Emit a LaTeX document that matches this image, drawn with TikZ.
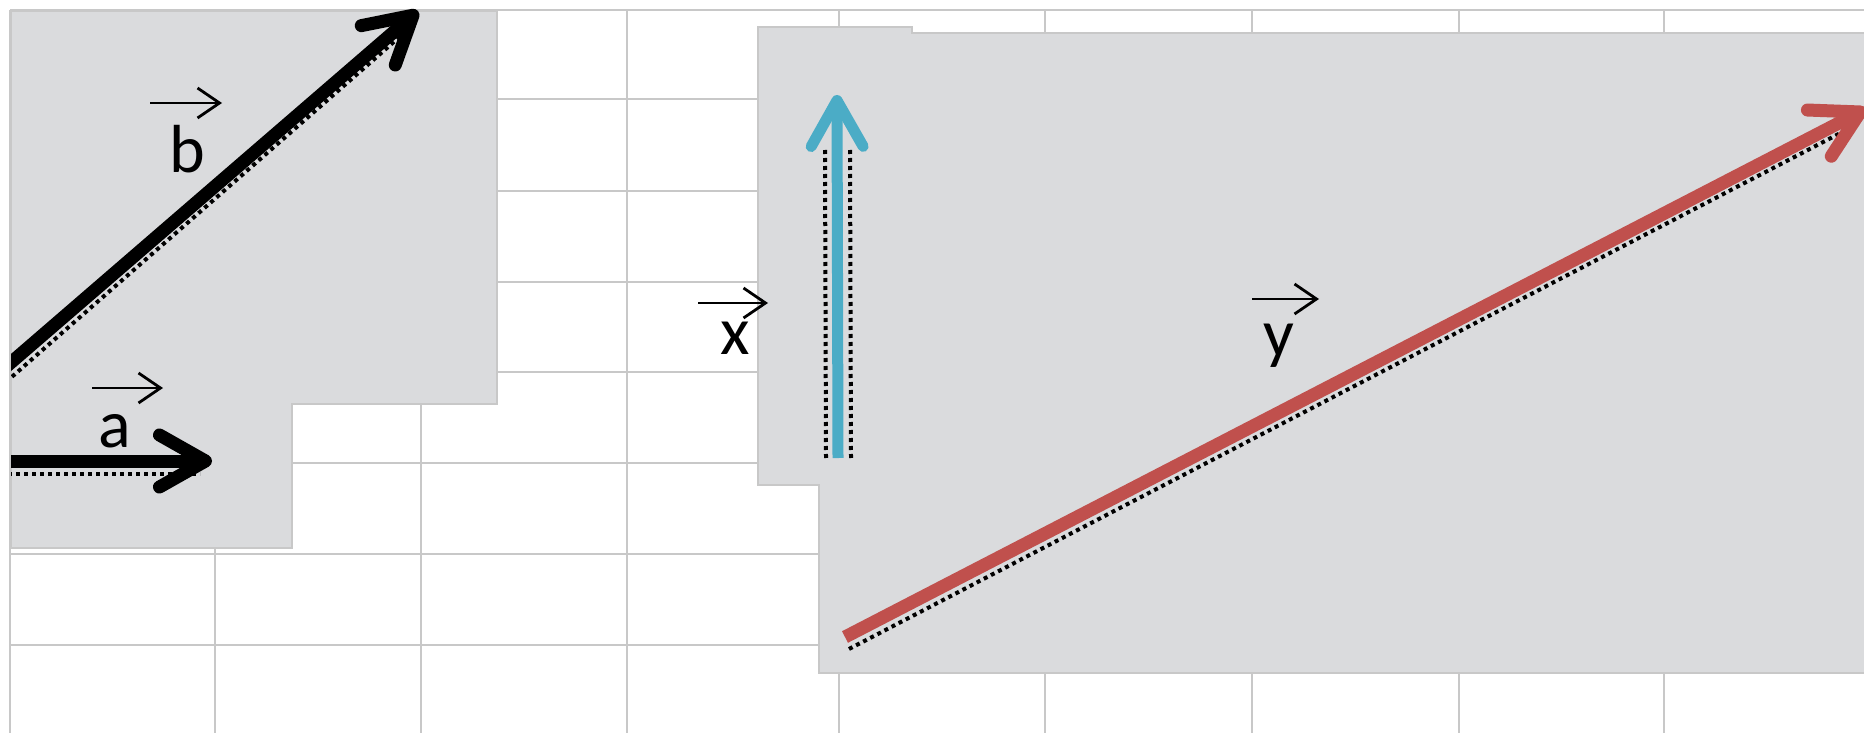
\documentclass[tikz,border=0pt]{standalone}
\usepackage{fontspec}
\setmainfont{Carlito}
\usepackage{xcolor}
\usepackage{tikz}
\usetikzlibrary{positioning, arrows.meta, calc}
\definecolor{gridgray}{HTML}{C8C8C8}
\definecolor{panelgray}{HTML}{DADBDD}
\definecolor{vecred}{HTML}{C0504D}
\definecolor{vecblue}{HTML}{4BACC6}

\begin{document}
\begin{tikzpicture}[x=0.5pt, y=-0.5pt,
    vec/.style={line width=6.5pt, -{Straight Barb[length=23pt, width=26pt, round]}},
    overarrow/.style={line width=1.4pt, -{Straight Barb[length=11pt, width=15pt]}},
    letter/.style={anchor=base, inner sep=0pt, font=\fontsize{34}{40}\selectfont},
    dither/.style={black, line width=2pt, dash pattern=on 2pt off 2pt}]
  \useasboundingbox (0,0) rectangle (1864,733);
  \clip (0,0) rectangle (1864,733);
  % grid
  \foreach \gx in {10,215,421,627,839,1045,1252,1459,1664}
    \draw[gridgray, line width=1.4pt] (\gx,10) -- (\gx,740);
  \foreach \gy in {10,99,191,282,372,463,554,645}
    \draw[gridgray, line width=1.4pt] (10,\gy) -- (1870,\gy);
  % grey panels
  \filldraw[fill=panelgray, draw=gridgray, line width=0.6pt]
    (11,11) -- (497,11) -- (497,404) -- (292,404) -- (292,548) -- (11,548) -- cycle;
  \filldraw[fill=panelgray, draw=gridgray, line width=0.6pt]
    (758,27) -- (912,27) -- (912,33) -- (1870,33) -- (1870,673)
    -- (819,673) -- (819,485) -- (758,485) -- cycle;

  \coordinate (a-tail) at (0,461);
  \coordinate (a-tip) at (212,461);
  \coordinate (b-tail) at (0,372);
  \coordinate (b-tip) at (418,11);
  \coordinate (x-tail) at (838,458);
  \coordinate (x-tip) at (837,95);
  \coordinate (y-tail) at (845,637);
  \coordinate (y-tip) at (1866,109);

  % left vectors, cut at the panel edge
  \begin{scope}
    \clip (11,0) rectangle (1864,733);
    \draw[dither] ([shift={(0,13)}]a-tail) -- ([shift={(-12,13)}]a-tip);
    \draw[dither] ([shift={(6,10)}]b-tail) -- ([shift={(-14,22)}]b-tip);
    \draw[vec, black] (a-tail) -- (a-tip);
    \draw[vec, black] (b-tail) -- (b-tip);
  \end{scope}

  % right vectors
  \draw[dither] ([shift={(-12,55)}]x-tip) -- ([shift={(-12,0)}]x-tail);
  \draw[dither] ([shift={(13,55)}]x-tip) -- ([shift={(13,0)}]x-tail);
  \draw[dither] ([shift={(4,12)}]y-tail) -- ([shift={(-14,18)}]y-tip);
  \draw[vec, vecblue, line width=5.5pt] (x-tail) -- (x-tip);
  \draw[vec, vecred] (y-tail) -- (y-tip);

  % labels
  \node[letter] (b-lbl) at (187,173) {b};
  \coordinate (b-bar-l) at (150,103);
  \coordinate (b-bar-r) at (222,103);
  \draw[overarrow] (b-bar-l) -- (b-bar-r);

  \node[letter] (a-lbl) at (115,447) {a};
  \coordinate (a-bar-l) at (92,388);
  \coordinate (a-bar-r) at (163,388);
  \draw[overarrow] (a-bar-l) -- (a-bar-r);

  \node[letter] (x-lbl) at (735,354) {x};
  \coordinate (x-bar-l) at (698,303);
  \coordinate (x-bar-r) at (768,303);
  \draw[overarrow] (x-bar-l) -- (x-bar-r);

  \node[letter] (y-lbl) at (1279,356) {y};
  \coordinate (y-bar-l) at (1252,299);
  \coordinate (y-bar-r) at (1319,299);
  \draw[overarrow] (y-bar-l) -- (y-bar-r);
\end{tikzpicture}
\end{document}
